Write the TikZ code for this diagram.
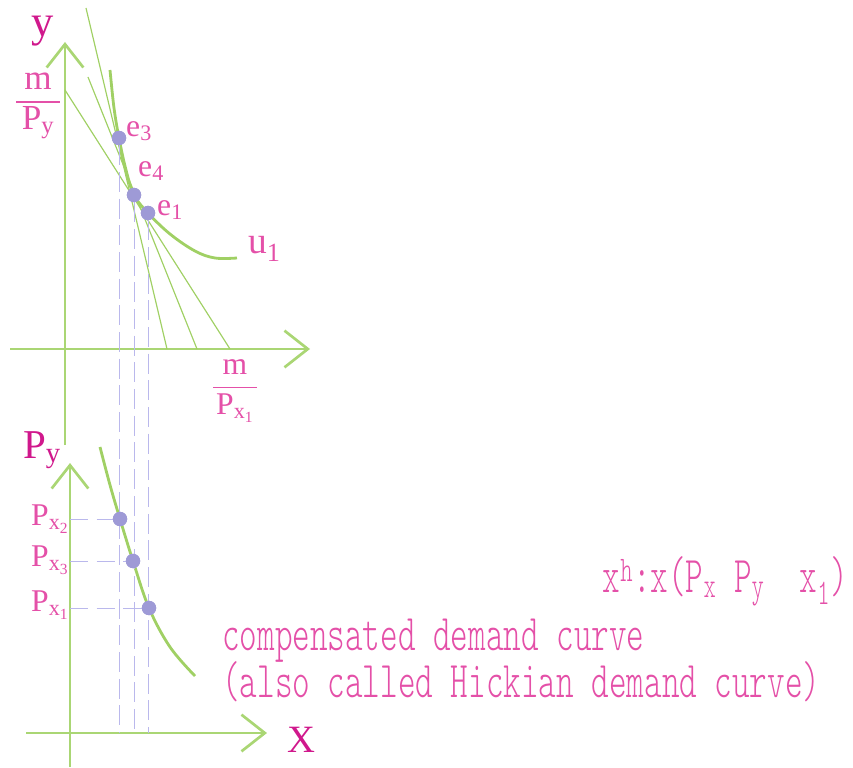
\documentclass[tikz,border=0pt]{standalone}
\usepackage{fontspec}
\setmainfont{Liberation Serif}
\newfontfamily\hickfont[FakeStretch=0.65]{Latin Modern Mono Light}
\usepackage{amsmath}
\usetikzlibrary{arrows.meta,positioning}
\definecolor{axisGreen}{RGB}{170,214,116}
\definecolor{curveGreen}{RGB}{160,208,100}
\definecolor{lblPink}{RGB}{228,80,168}
\definecolor{lblMag}{RGB}{208,24,140}
\definecolor{dotLav}{RGB}{158,154,214}
\definecolor{dashLav}{RGB}{186,184,236}
\newcommand{\fracbar}[3]{$\dfrac{\makebox[#1]{\text{#2}}}{\text{#3}}$}
\tikzset{
    axis/.style={draw=axisGreen,line width=2.3pt,
        -{Straight Barb[length=7mm,width=11mm,line width=2.3pt]}},
    budget/.style={draw=curveGreen,line width=1pt},
    curve/.style={draw=curveGreen,line width=2.4pt},
    guide/.style={draw=dashLav,line width=0.7pt,dash pattern=on 0.6cm off 0.2cm},
    hguide/.style={draw=dashLav,line width=0.7pt,dash pattern=on 0.55cm off 0.25cm},
    pt/.style={circle,fill=dotLav,inner sep=0pt,minimum size=0.43cm},
    biglbl/.style={text=lblMag,font=\fontsize{40}{42}\selectfont,inner sep=0pt},
    lbl/.style={text=lblPink,font=\fontsize{27}{30}\selectfont,inner sep=0pt},
    txt/.style={text=lblPink,font=\hickfont\fontsize{44}{46}\selectfont,inner sep=0pt}
}

\begin{document}
\begin{tikzpicture}[x=0.03cm,y=-0.03cm]
    \useasboundingbox (0,0) rectangle (853,767);
    % utility panel
    \coordinate (yb) at (65,445);
    \coordinate (yt) at (65,42);
    \coordinate (xl) at (10,349);
    \coordinate (xr) at (310,349);
    \draw[axis] (xl) -- (xr);
    \draw[axis] (yb) -- (yt);
    \draw[budget] (65,90) -- (230,349);
    \draw[budget] (88,77) -- (197,349);
    \draw[budget] (86,8) -- (167,349);
    \draw[curve] plot[smooth,tension=0.6] coordinates
        {(110,70) (114,108) (119,138) (126,170) (134,195) (148,213) (170,234) (195,251) (215,258) (237,258)};
    % demand panel
    \coordinate (pb) at (70,767);
    \coordinate (pt) at (70,463);
    \coordinate (Xl) at (26,733);
    \coordinate (Xr) at (267,733);
    \draw[axis] (Xl) -- (Xr);
    \draw[axis] (pb) -- (pt);
    \draw[curve] plot[smooth,tension=0.6] coordinates
        {(100,447) (110,485) (120,519) (133,561) (149,608) (170,647) (195,676)};

    \node[pt] (e3) at (119,138) {};
    \node[pt] (e4) at (134,195) {};
    \node[pt] (e1) at (148,213) {};
    \node[pt] (px2) at (120,519) {};
    \node[pt] (px3) at (133,561) {};
    \node[pt] (px1) at (149,608) {};

    \draw[guide] (e3) -- (e3 |- Xl);
    \draw[guide] (e4) -- (e4 |- Xl);
    \draw[guide] (e1) -- (e1 |- Xl);
    \draw[hguide] (pt |- px2) -- (px2);
    \draw[hguide] (pt |- px3) -- (px3);
    \draw[hguide] (pt |- px1) -- (px1);
    % dots again, over the guides
    \foreach \p in {e3,e4,e1,px2,px3,px1}
        \node[pt] at (\p) {};

    % labels
    \node[biglbl,anchor=base,font=\fontsize{38}{40}\selectfont] (ylbl) at (43,37) {y};
    \node[lbl,font=\fontsize{30}{32}\selectfont] (mpy) at (38,106) {\fracbar{1.3cm}{m}{P\textsubscript{y}}};
    \node[lbl] (mpx) at (235,391) {\fracbar{1.3cm}{m}{P\textsubscript{x\textsubscript{1}}}};
    \node[lbl,anchor=west] (e3l) at (126,131) {e\textsubscript{3}};
    \node[lbl,anchor=west] (e4l) at (138,171) {e\textsubscript{4}};
    \node[lbl,anchor=west] (e1l) at (157,210) {e\textsubscript{1}};
    \node[lbl,anchor=west,font=\fontsize{32}{34}\selectfont] (u1l) at (248,249) {u\textsubscript{1}};
    \node[biglbl,font=\fontsize{35}{38}\selectfont] (pylbl) at (42,450) {P\textsubscript{y}};
    \node[biglbl,font=\fontsize{33}{36}\selectfont] (Xlbl) at (301,740) {X};
    \node[lbl] (px2l) at (50,519) {P\textsubscript{x\textsubscript{2}}};
    \node[lbl] (px3l) at (50,560) {P\textsubscript{x\textsubscript{3}}};
    \node[lbl] (px1l) at (50,605) {P\textsubscript{x\textsubscript{1}}};
    \node[txt,anchor=base east] (hick) at (848,592)
        {x\textsuperscript{h}:x(P\textsubscript{x} P\textsubscript{y}\ \ x\textsubscript{1})};
    \node[txt,anchor=base west] (comp) at (222,650) {compensated demand curve};
    \node[txt,anchor=base west] (also) at (222,697) {(also called Hickian demand curve)};
\end{tikzpicture}
\end{document}
